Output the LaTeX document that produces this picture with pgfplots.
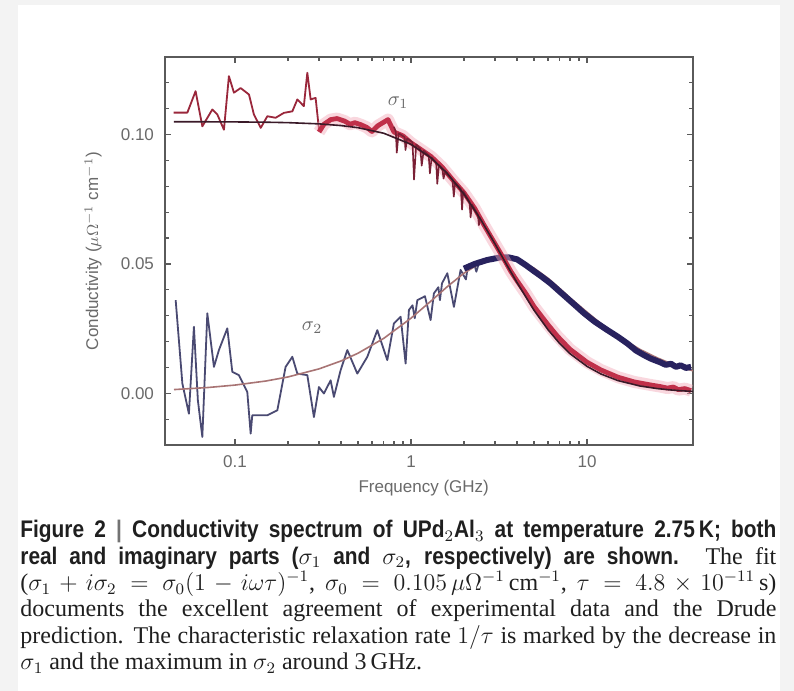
\documentclass[border=0pt]{standalone}
\usepackage{fontspec}
\setmainfont{Liberation Serif}
\newfontfamily\axfont{Liberation Sans}
\newfontfamily\capbf[FakeStretch=0.87]{Liberation Sans Bold}
\usepackage{pgfplots}
\pgfplotsset{compat=1.18}

\definecolor{frame}{HTML}{F3F3F3}
\definecolor{axgray}{HTML}{5A5A5A}
\definecolor{txtgray}{HTML}{6A6A6A}
\definecolor{sonered}{HTML}{C0304A}
\definecolor{sonepink}{HTML}{F2A8B8}
\definecolor{sonedark}{HTML}{7A2035}
\definecolor{sonefit}{HTML}{3A1A28}
\definecolor{stwonavy}{HTML}{28225E}
\definecolor{stwothin}{HTML}{4A4A72}
\definecolor{stwofit}{HTML}{A87474}

% sigma_1, noisy low-frequency part
\pgfplotstableread{
f s
0.0448 0.1085
0.0536 0.1085
0.0597 0.1168
0.0652 0.1032
0.0743 0.1097
0.0793 0.1078
0.0865 0.1019
0.0923 0.1226
0.0986 0.1162
0.1076 0.1180
0.1200 0.1155
0.1280 0.1078
0.1400 0.1026
0.1526 0.1071
0.1700 0.1065
0.1896 0.1084
0.2117 0.1090
0.2260 0.1136
0.2460 0.1110
0.2575 0.1239
0.2690 0.1136
0.2870 0.1142
0.3000 0.1019
}\sonenoisy

% sigma_1, dense part
\pgfplotstableread{
f s
0.30 0.1010
0.32 0.1040
0.35 0.1058
0.38 0.1062
0.42 0.1052
0.45 0.1040
0.48 0.1046
0.52 0.1038
0.56 0.1028
0.60 0.1012
0.65 0.1035
0.70 0.1048
0.74 0.1058
0.80 0.1010
0.90 0.0995
1.00 0.0968
1.15 0.0940
1.30 0.0915
1.50 0.0875
1.75 0.0820
2.00 0.0775
2.30 0.0715
2.60 0.0650
3.00 0.0578
3.30 0.0530
3.70 0.0470
4.00 0.0435
4.50 0.0385
5.00 0.0335
6.00 0.0265
6.80 0.0220
8.00 0.0170
10.0 0.0120
12.0 0.0090
15.0 0.0062
18.5 0.0044
23.0 0.0032
26.0 0.0026
28.6 0.0020
31.0 0.0024
33.0 0.0014
36.0 0.0018
39.0 0.0010
}\soneband

% sigma_1, spikes
\pgfplotstableread{
f s
0.80 0.1030
0.82 0.1010
0.83 0.0930
0.85 0.1005
0.92 0.0990
0.93 0.0940
0.95 0.0985
1.02 0.0970
1.04 0.0826
1.07 0.0962
1.13 0.0945
1.15 0.0880
1.18 0.0938
1.26 0.0920
1.28 0.0850
1.31 0.0912
1.39 0.0890
1.41 0.0810
1.44 0.0882
1.51 0.0862
1.53 0.0830
1.56 0.0855
1.72 0.0825
1.75 0.0760
1.78 0.0815
1.92 0.0790
1.95 0.0710
1.98 0.0782
2.15 0.0740
2.18 0.0680
2.22 0.0730
2.40 0.0690
2.43 0.0650
2.47 0.0680
}\sonespike

% sigma_2, low-frequency part
\pgfplotstableread{
f s
0.0460 0.0360
0.0502 0.0038
0.0547 -0.0079
0.0584 0.0257
0.0615 -0.0027
0.0652 -0.0169
0.0696 0.0309
0.0759 0.0102
0.0810 0.0167
0.0904 0.0251
0.0965 0.0083
0.1052 0.0070
0.1174 0.0005
0.1227 -0.0156
0.1253 -0.0085
0.1526 -0.0085
0.1739 -0.0066
0.1938 0.0102
0.2116 0.0141
0.2259 0.0076
0.2575 0.0070
0.2807 -0.0092
0.2997 0.0024
0.3199 -0.0001
0.3493 0.0050
0.3646 -0.0014
0.3981 0.0089
0.4346 0.0167
0.4953 0.0076
0.5646 0.0141
0.6435 0.0244
0.7332 0.0128
0.7994 0.0270
0.8727 0.0296
0.9317 0.0115
0.9729 0.0322
1.0200 0.0340
1.0500 0.0290
1.0860 0.0360
1.2000 0.0375
1.2920 0.0283
1.3490 0.0386
1.4300 0.0410
1.4600 0.0360
1.5000 0.0425
1.6080 0.0464
1.7530 0.0334
1.9130 0.0477
2.0500 0.0440
2.1000 0.0487
2.2780 0.0503
2.3500 0.0470
2.4500 0.0510
2.6000 0.0515
}\stwothin

% sigma_2, dense part
\pgfplotstableread{
f s
2.0 0.0482
2.3 0.0500
2.7 0.0515
3.2 0.0525
3.6 0.0525
4.0 0.0518
4.5 0.0495
5.0 0.0472
5.5 0.0452
6.2 0.0425
7.0 0.0393
8.0 0.0358
9.6 0.0310
11.0 0.0278
13.0 0.0245
15.0 0.0218
17.0 0.0192
19.0 0.0165
21.0 0.0148
23.0 0.0134
26.0 0.0120
28.0 0.0110
30.0 0.0114
32.0 0.0102
34.0 0.0108
36.5 0.0098
39.0 0.0102
}\stwoband

% Drude fit, sigma_0 = 0.105, tau = 4.8e-11 s
\pgfplotstableread{
f s1 s2
0.045 0.10498 0.001425
0.07 0.10495 0.002215
0.1 0.10490 0.003164
0.15 0.10479 0.004741
0.2 0.10462 0.006310
0.3 0.10415 0.009422
0.4 0.10349 0.012481
0.5 0.10267 0.015483
0.7 0.10052 0.02122
1 0.09625 0.02903
1.3 0.09101 0.03568
1.6 0.08517 0.04110
2 0.07700 0.04644
2.5 0.06694 0.05047
3 0.05774 0.05224
3.5 0.04961 0.05236
4 0.04283 0.05167
5 0.03208 0.04837
6 0.02459 0.04449
7 0.01920 0.04053
8 0.01531 0.03694
10 0.01040 0.03136
12 0.00745 0.02696
15 0.00489 0.02212
20 0.00281 0.01695
25 0.00182 0.01372
30 0.00127 0.01149
35 0.00093 0.00982
40 0.00072 0.00869
}\drude

\begin{document}
\begin{tikzpicture}
\fill[frame] (0,0) rectangle (397pt,345.5pt);
\fill[white] (9pt,0) rectangle (390pt,343pt);

\begin{axis}[
  at={(82.5pt,123pt)}, anchor=south west,
  scale only axis, width=264pt, height=194pt,
  xmode=log, xmin=0.04, xmax=40,
  ymin=-0.02, ymax=0.13,
  xtick={0.1,1,10}, xticklabels={0.1,1,10},
  ytick={0,0.05,0.1}, yticklabels={0.00,0.05,0.10},
  minor ytick={-0.01,0.01,0.02,0.03,0.04,0.06,0.07,0.08,0.09,0.11,0.12},
  tick align=inside,
  major tick length=3pt, minor tick length=1.8pt,
  every tick/.style={axgray, line width=0.6pt},
  axis line style={axgray, line width=0.8pt},
  tick label style={font=\axfont\fontsize{8.5}{10}\selectfont, text=txtgray},
  xticklabel style={yshift=-2pt},
  yticklabel style={xshift=-2pt},
  label style={font=\axfont\fontsize{8.5}{10}\selectfont, text=txtgray},
  xlabel={Frequency (GHz)},
  ylabel={Conductivity ($\mu\Omega^{-1}$ cm$^{-1}$)},
  xlabel style={at={(axis description cs:0.49,-0.111)}, anchor=center},
  ylabel style={at={(axis description cs:-0.136,0.5)}, anchor=center},
  clip=true,
]
% sigma_2
\addplot[stwothin, line width=0.9pt, line join=round] table[x=f, y=s] {\stwothin};
\addplot[stwofit, line width=0.8pt] table[x=f, y=s2] {\drude};
\addplot[stwonavy, line width=3pt, line join=round] table[x=f, y=s] {\stwoband};
% sigma_1
\addplot[sonered!80!black, line width=0.9pt, line join=round] table[x=f, y=s] {\sonenoisy};
\addplot[sonepink, opacity=0.45, line width=6pt, line join=round] table[x=f, y=s] {\soneband};
\addplot[sonered, line width=2.4pt, line join=round] table[x=f, y=s] {\soneband};
\addplot[sonedark, line width=0.8pt, line join=round] table[x=f, y=s] {\sonespike};
\addplot[sonefit, line width=0.8pt] table[x=f, y=s1] {\drude};

\node[text=txtgray, font=\fontsize{10}{11}\selectfont] at (axis cs:0.845,0.1124) {$\sigma_1$};
\node[text=txtgray, font=\fontsize{10}{11}\selectfont] at (axis cs:0.274,0.0252) {$\sigma_2$};
\end{axis}

\node[anchor=north west, inner sep=0pt, text width=378pt, align=justify,
      font=\fontsize{12}{13.2}\selectfont, text=black!88] at (10pt,85.5pt) {%
{\capbf Figure 2 \textcolor{black!55}{|} Conductivity spectrum of UPd$_2$Al$_3$ at temperature 2.75\,K; both\linebreak
real and imaginary parts ($\sigma_1$ and $\sigma_2$, respectively) are shown.} The fit\linebreak
($\sigma_1+i\sigma_2=\sigma_0(1-i\omega\tau)^{-1}$, $\sigma_0=0.105\,\mu\Omega^{-1}\,\mathrm{cm}^{-1}$, $\tau=4.8\times10^{-11}\,\mathrm{s}$)\linebreak
documents the excellent agreement of experimental data and the Drude\linebreak
prediction. The characteristic relaxation rate $1/\tau$ is marked by the decrease in\linebreak
$\sigma_1$ and the maximum in $\sigma_2$ around 3\,GHz.};
\end{tikzpicture}
\end{document}
